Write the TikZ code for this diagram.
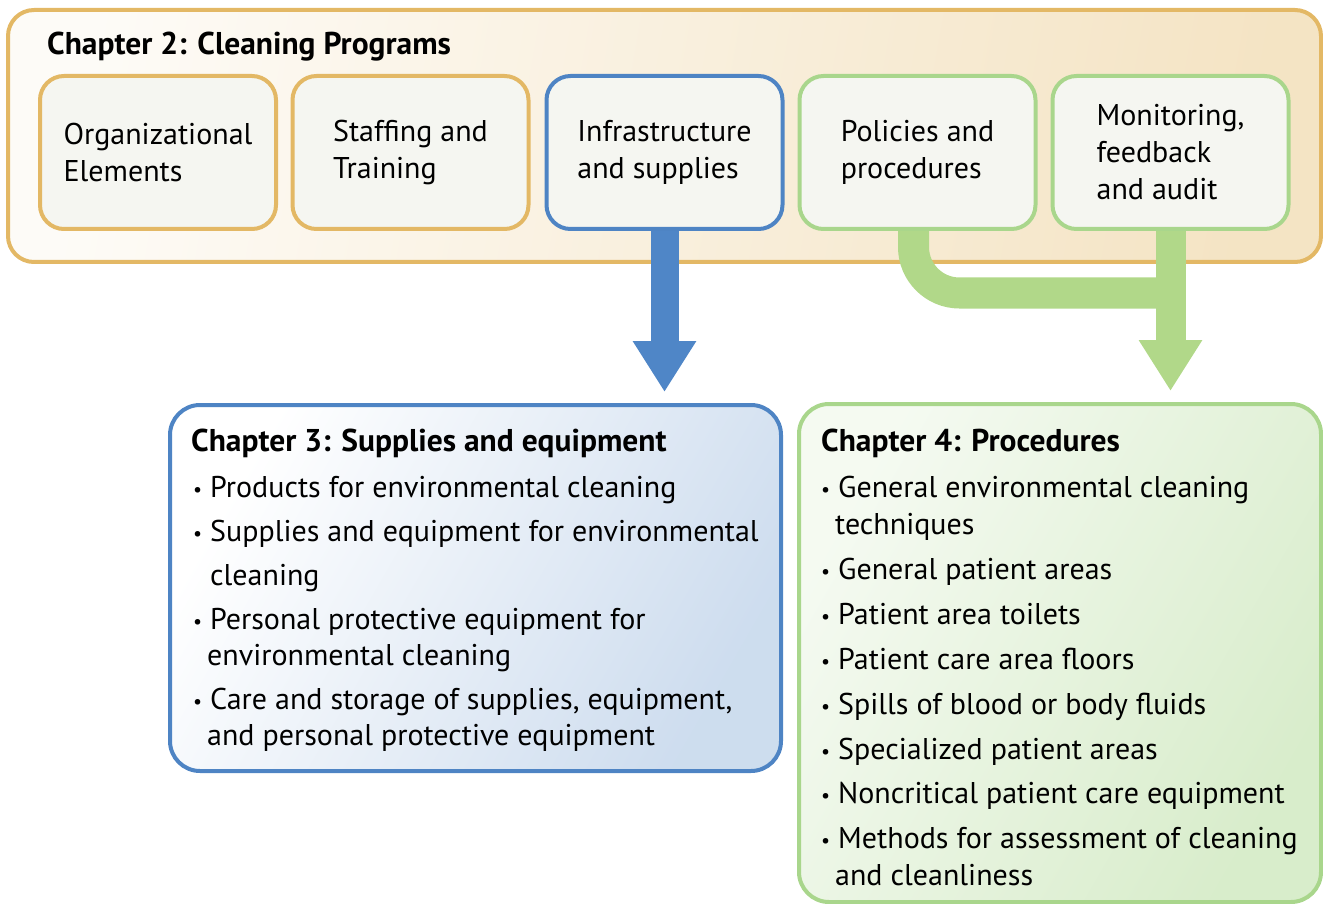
\documentclass[tikz,border=0pt]{standalone}
\usepackage{fontspec}
\setmainfont{PT Sans}
\usetikzlibrary{arrows.meta}
\definecolor{gold}{HTML}{E3B865}
\definecolor{bluebd}{HTML}{4E84C4}
\definecolor{bluearr}{HTML}{4F86C7}
\definecolor{greenbd}{HTML}{A9D68C}
\definecolor{greenarr}{HTML}{B1D889}
\definecolor{innerfill}{HTML}{F5F6F1}
\newcommand\mybul{\makebox[17pt][l]{\fontsize{20}{20}\selectfont\raisebox{1pt}{•}}}
\tikzset{
  topbox/.style={draw, line width=4pt, rounded corners=24pt, fill=innerfill,
    minimum width=236pt, minimum height=153pt, align=left, inner sep=0pt,
    font=\fontsize{30}{37}\selectfont},
  ttl/.style={anchor=base west, inner sep=0pt, font=\bfseries\fontsize{31.5}{34}\selectfont},
  itm/.style={anchor=base west, inner sep=0pt, font=\fontsize{30}{34}\selectfont},
}
\begin{document}
\begin{tikzpicture}[x=1pt,y=-1pt]
\useasboundingbox (0,0) rectangle (1323,904);
% outer box
\path[draw=gold, line width=4pt, rounded corners=26pt, left color=white!70!gold!18, right color=gold!38!white, shading angle=80]
  (8,10) rectangle (1321,262);
\node[ttl] (t2) at (47,55) {Chapter 2: Cleaning Programs};
% inner boxes
\node[topbox, draw=gold] (b1) at (158,152.5) {Organizational\\Elements};
\node[topbox, draw=gold] (b2) at (410.5,152.5) {Staffing and\\Training};
\node[topbox, draw=bluebd] (b3) at (664.5,152.5) {Infrastructure\\and supplies};
\node[topbox, draw=greenbd] (b4) at (917.5,152.5) {Policies and\\procedures};
\node[topbox, draw=greenbd] (b5) at (1170.5,152.5) {Monitoring,\\feedback\\and audit};
% chapter 3 box
\node[draw=bluebd, line width=4pt, rounded corners=30pt, minimum width=611pt, minimum height=366pt,
  inner sep=0pt, left color=white, right color=bluebd!28!white, shading angle=60] (c3) at (475.5,588) {};
% chapter 4 box
\node[draw=greenbd, line width=4pt, rounded corners=30pt, minimum width=522pt, minimum height=498pt,
  inner sep=0pt, left color=greenbd!12!white, right color=greenbd!45!white, shading angle=60] (c4) at (1060,653) {};
% arrows
\draw[bluearr, line width=28pt, -{Triangle[width=60pt,length=51pt]}, shorten >=11pt] (b3.south) -- (c3.north -| b3.south);
\draw[greenarr, line width=31pt, rounded corners=46pt] ([xshift=-4pt]b4.south) |- ([yshift=-62pt]b5.south);
\draw[greenarr, line width=30pt, -{Triangle[width=60pt,length=51pt]}, shorten >=11pt] (b5.south) -- (c4.north -| b5.south);
% chapter 3 text
\node[ttl] (t3) at (191,451) {Chapter 3: Supplies and equipment};
\node[itm] (c3a) at (193,497) {\mybul Products for environmental cleaning};
\node[itm] (c3b) at (193,541) {\mybul Supplies and equipment for environmental};
\node[itm] (c3c) at (210,585) {cleaning};
\node[itm] (c3d) at (193,629) {\mybul Personal protective equipment for};
\node[itm] (c3e) at (207,665) {environmental cleaning};
\node[itm] (c3f) at (193,709) {\mybul Care and storage of supplies, equipment,};
\node[itm] (c3g) at (207,745) {and personal protective equipment};
% chapter 4 text
\node[ttl] (t4) at (821,451) {Chapter 4: Procedures};
\node[itm] (c4a) at (821,497) {\mybul General environmental cleaning};
\node[itm] (c4b) at (835,534) {techniques};
\node[itm] (c4c) at (821,579) {\mybul General patient areas};
\node[itm] (c4d) at (821,624) {\mybul Patient area toilets};
\node[itm] (c4e) at (821,669) {\mybul Patient care area floors};
\node[itm] (c4f) at (821,714) {\mybul Spills of blood or body fluids};
\node[itm] (c4g) at (821,759) {\mybul Specialized patient areas};
\node[itm] (c4h) at (821,803) {\mybul Noncritical patient care equipment};
\node[itm] (c4i) at (821,848) {\mybul Methods for assessment of cleaning};
\node[itm] (c4j) at (835,885) {and cleanliness};
\end{tikzpicture}
\end{document}
